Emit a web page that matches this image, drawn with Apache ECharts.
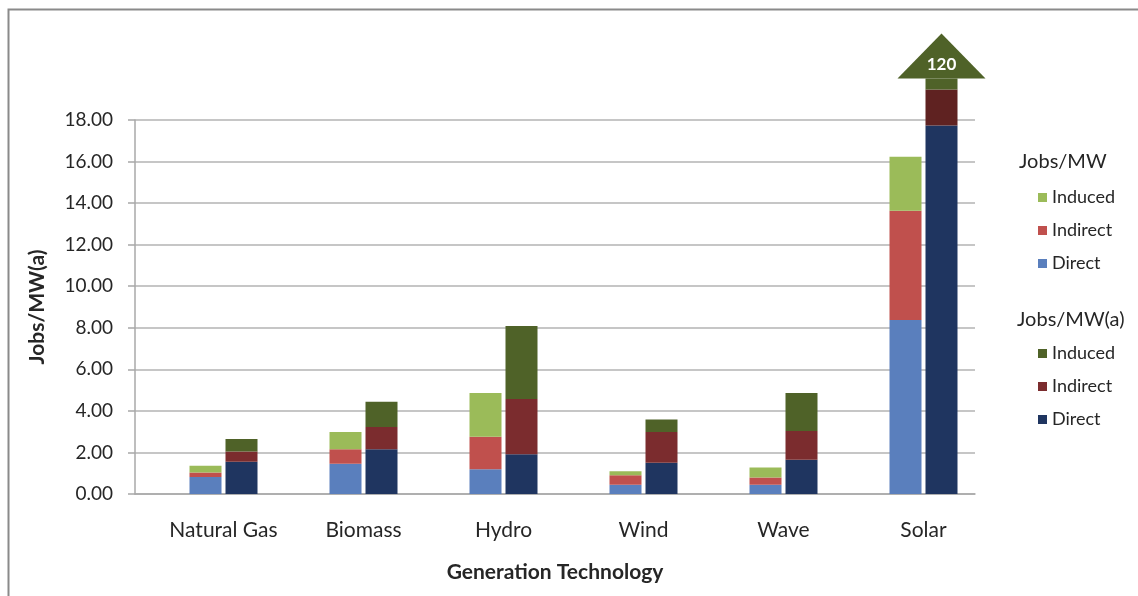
<!DOCTYPE html>
<html>
<head>
<meta charset="utf-8">
<title>Jobs per MW by generation technology</title>
<script src="https://cdn.jsdelivr.net/npm/echarts@6/dist/echarts.min.js"></script>
<style>
	html, body { margin: 0; padding: 0; background: #fff; }
	#chart { width: 1138px; height: 596px; }
</style>
</head>
<body>
<div id="chart"></div>
<script>
// categories + values
var categories = ['Natural Gas', 'Biomass', 'Hydro', 'Wind', 'Wave', 'Solar'];

// Jobs/MW (light bars)
var mwDirect   = [0.82, 1.46, 1.19, 0.45, 0.45, 8.37];
var mwIndirect = [0.22, 0.69, 1.57, 0.45, 0.35, 5.26];
var mwInduced  = [0.32, 0.83, 2.10, 0.19, 0.48, 2.60];

// Jobs/MW(a) (dark bars) - solar total is 120, shown broken with an arrow
var mwaDirect   = [1.55, 2.15, 1.91, 1.51, 1.65, 17.74];
var mwaIndirect = [0.50, 1.07, 2.66, 1.47, 1.38, 1.73];
var mwaInduced  = [0.60, 1.22, 3.51, 0.60, 1.83, 100.53];

var yTicks = { min: 0, max: 18, interval: 2 };
var breakAt = 20;   // value where the off-scale bar is cut off

var FONT = 'Lato';
var TXT = '#262626';

var chart = {
	init: function() {
		var dom = document.getElementById('chart');
		var myChart = echarts.init(dom, null, { renderer: 'canvas' });
		myChart.setOption(this.option());
	},
	// stacked value shown for a segment, cut at breakAt
	capped: function(below, vals) {
		return vals.map(function(v, i) {
			var base = 0;
			below.forEach(function(arr) { base += arr[i]; });
			return Math.min(v, Math.max(breakAt - base, 0));
		});
	},
	totals: function(list) {
		return categories.map(function(c, i) {
			var s = 0;
			list.forEach(function(arr) { s += arr[i]; });
			return s;
		});
	},
	barSeries: function(name, stack, color, data) {
		return {
			name: name,
			type: 'bar',
			stack: stack,
			xAxisIndex: 1,
			yAxisIndex: 1,
			barWidth: 32,
			barGap: '12.5%',
			clip: false,
			itemStyle: { color: color },
			emphasis: { disabled: true },
			data: data
		};
	},
	option: function() {
		var self = this;
		var solarIdx = categories.indexOf('Solar');
		var mwaTotal = this.totals([mwaDirect, mwaIndirect, mwaInduced]);

		// the solar indirect slice is drawn a shade darker in the original
		var mwaIndirectData = mwaIndirect.map(function(v, i) {
			return i === solarIdx ? { value: v, itemStyle: { color: '#5f2221' } } : v;
		});

		var legendText = function(name) { return name.split(' ').pop(); };
		var legendCommon = {
			orient: 'vertical',
			left: 1033,
			icon: 'rect',
			itemWidth: 9,
			itemHeight: 9,
			itemGap: 14,
			selectedMode: false,
			formatter: legendText,
			textStyle: { fontFamily: FONT, fontSize: 18, color: TXT, lineHeight: 19 }
		};

		return {
			animation: false,
			backgroundColor: '#fff',
			title: [
				{ text: 'Jobs/MW', left: 1014, top: 147,
				  textStyle: { fontFamily: FONT, fontSize: 20, fontWeight: 'normal', color: TXT } },
				{ text: 'Jobs/MW(a)', left: 1012, top: 305,
				  textStyle: { fontFamily: FONT, fontSize: 20, fontWeight: 'normal', color: TXT } }
			],
			legend: [
				Object.assign({}, legendCommon, {
					top: 183,
					data: ['Jobs/MW Induced', 'Jobs/MW Indirect', 'Jobs/MW Direct']
				}),
				Object.assign({}, legendCommon, {
					top: 339,
					data: ['Jobs/MW(a) Induced', 'Jobs/MW(a) Indirect', 'Jobs/MW(a) Direct']
				})
			],
			graphic: [{
				// outer frame of the chart area
				type: 'rect',
				silent: true,
				shape: { x: 8.5, y: 9.5, width: 1200, height: 700 },
				style: { fill: 'none', stroke: '#8a8a8a', lineWidth: 2 }
			}],
			// grid 0 carries the visible axes, grid 1 carries the bars
			grid: [
				{ left: 135, top: 120, width: 840, height: 374 },
				{ left: 153.5, top: 120, width: 840, height: 374 }
			],
			xAxis: [
				{
					gridIndex: 0,
					type: 'category',
					data: categories,
					axisLine: { show: true, lineStyle: { color: '#a8a8a8', width: 1.5 } },
					axisTick: { show: false },
					axisLabel: { show: false },
					name: 'Generation Technology',
					nameLocation: 'middle',
					nameGap: 68,
					nameTextStyle: { fontFamily: FONT, fontSize: 21, fontWeight: 'bold', color: TXT }
				},
				{
					gridIndex: 1,
					type: 'category',
					data: categories,
					axisLine: { show: false },
					axisTick: { show: false },
					axisLabel: { interval: 0, fontFamily: FONT, fontSize: 21, color: TXT, margin: 26 }
				}
			],
			yAxis: [
				{
					gridIndex: 0,
					type: 'value',
					min: yTicks.min,
					max: yTicks.max,
					interval: yTicks.interval,
					axisLine: { show: true, lineStyle: { color: '#a8a8a8', width: 1.5 } },
					axisTick: { show: true, length: 7, lineStyle: { color: '#a8a8a8', width: 1.5 } },
					axisLabel: {
						fontFamily: FONT, fontSize: 19, color: TXT, margin: 22,
						formatter: function(v) { return v.toFixed(2); }
					},
					splitLine: { lineStyle: { color: '#b3b3b3', width: 1.5 } },
					name: 'Jobs/MW(a)',
					nameLocation: 'middle',
					nameGap: 87,
					nameRotate: 90,
					nameTextStyle: { fontFamily: FONT, fontSize: 21, fontWeight: 'bold', color: TXT }
				},
				{
					gridIndex: 1,
					type: 'value',
					min: yTicks.min,
					max: yTicks.max,
					interval: yTicks.interval,
					show: false,
					splitLine: { show: false }
				}
			],
			series: [
				this.barSeries('Jobs/MW Direct', 'mw', '#5a7fbd', mwDirect),
				this.barSeries('Jobs/MW Indirect', 'mw', '#c0504d', mwIndirect),
				this.barSeries('Jobs/MW Induced', 'mw', '#9bbb59', mwInduced),
				this.barSeries('Jobs/MW(a) Direct', 'mwa', '#1f3560', mwaDirect),
				this.barSeries('Jobs/MW(a) Indirect', 'mwa', '#7b2c2e', mwaIndirectData),
				this.barSeries('Jobs/MW(a) Induced', 'mwa', '#4f6228',
					self.capped([mwaDirect, mwaIndirect], mwaInduced)),
				{
					// arrow head on the off-scale solar bar
					type: 'custom',
					xAxisIndex: 1,
					yAxisIndex: 1,
					clip: false,
					silent: true,
					data: mwaTotal.map(function(t, i) { return [i, breakAt, t]; })
						.filter(function(d) { return d[2] > breakAt; }),
					renderItem: function(params, api) {
						var p = api.coord([api.value(0), api.value(1)]);
						var x = p[0] + 18, y = p[1];
						return {
							type: 'group',
							children: [{
								type: 'polygon',
								shape: { points: [[x - 44, y], [x + 44, y], [x, y - 45]] },
								style: { fill: '#4f6228' }
							}, {
								type: 'text',
								style: {
									x: x, y: y - 14,
									text: String(Math.round(api.value(2))),
									fill: '#fff',
									font: 'bold 17px ' + FONT,
									align: 'center',
									verticalAlign: 'middle'
								}
							}]
						};
					}
				}
			]
		};
	}
};

chart.init();
</script>
</body>
</html>
